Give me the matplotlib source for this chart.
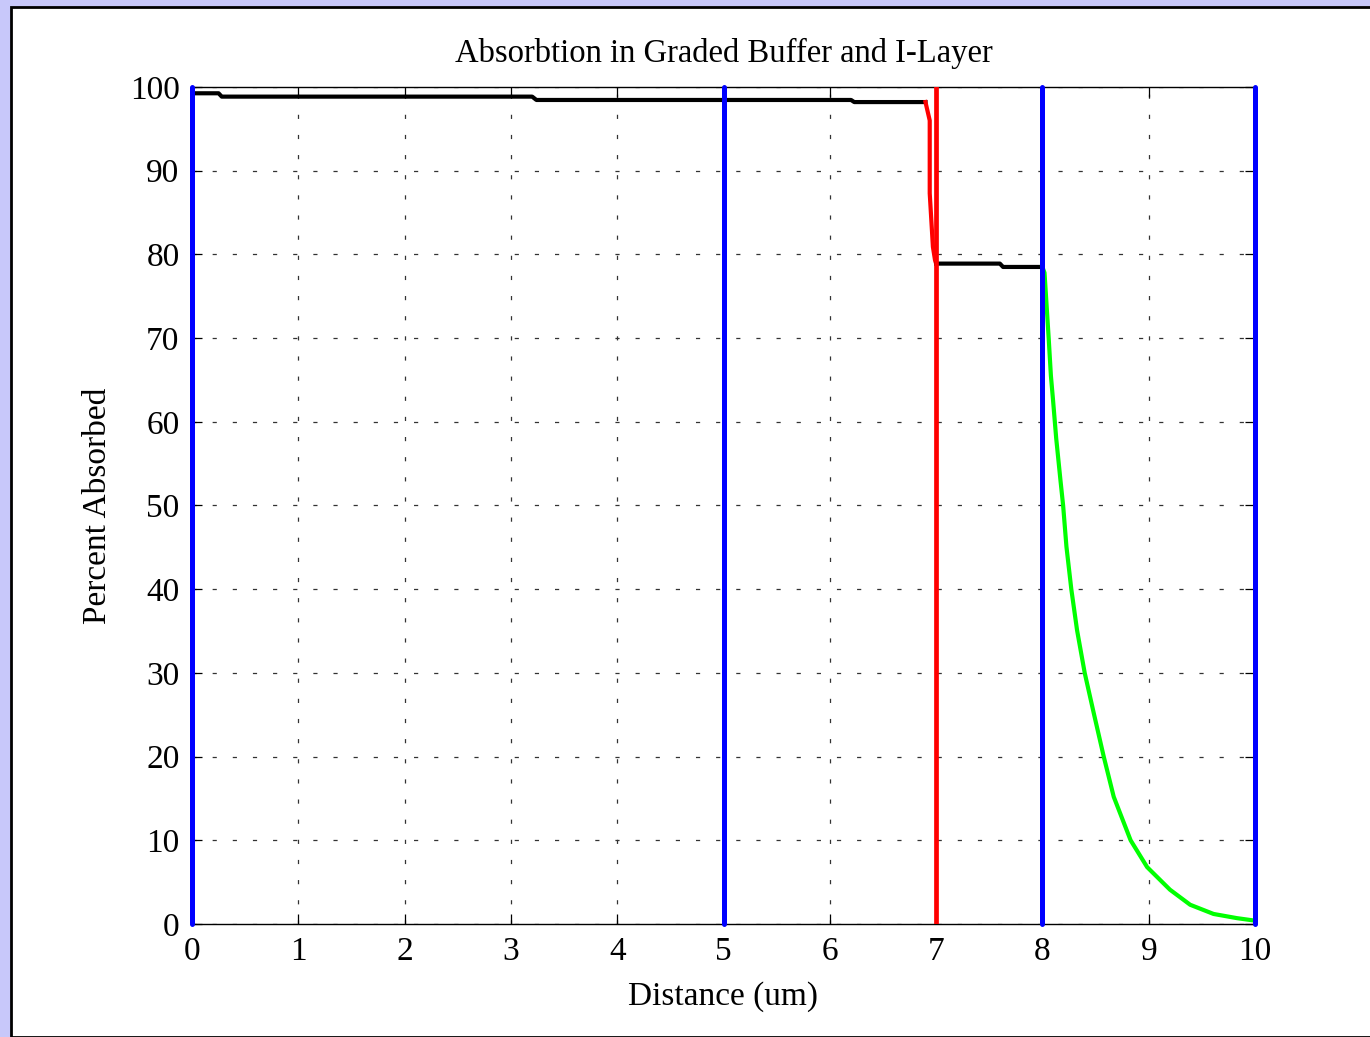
#!/usr/bin/env python3
import matplotlib
matplotlib.use("Agg")
import matplotlib.pyplot as plt
from matplotlib.patches import Rectangle

# layer boundaries (um)
blue_edges = [0, 5, 8, 10]
red_edges = [7]

# graded buffer absorption (black steps)
buf_x = [0.0, 0.25, 0.28, 3.2, 3.24, 6.2, 6.23, 6.9]
buf_y = [99.25, 99.25, 98.85, 98.85, 98.45, 98.45, 98.2, 98.2]

# sharp drop near 7 um (red)
drop_x = [6.9, 6.94, 6.94, 6.97, 6.99, 7.0]
drop_y = [98.2, 96.0, 87.3, 80.9, 79.3, 78.9]

# layer between 7 and 8 um (black)
mid_x = [7.0, 7.6, 7.63, 8.0]
mid_y = [78.9, 78.9, 78.5, 78.5]

# i-layer absorption (green)
ilayer_x = [8.00, 8.02, 8.04, 8.06, 8.08, 8.10, 8.13, 8.17, 8.195, 8.226, 8.272, 8.326,
            8.398, 8.483, 8.577, 8.671, 8.83, 8.985, 9.2, 9.39, 9.61, 9.83, 10.0]
ilayer_y = [78.5, 77.8, 73.8, 69.8, 65.5, 62.6, 58.0, 53.0, 50.0, 45.1, 40.0, 35.1,
            30.0, 25.2, 20.0, 15.2, 10.0, 6.8, 4.1, 2.3, 1.2, 0.7, 0.4]

x_ticks = list(range(0, 11))
y_ticks = list(range(0, 101, 10))

plt.rcParams["font.family"] = ["Liberation Serif", "DejaVu Serif"]
plt.rcParams["lines.scale_dashes"] = False

fig = plt.figure(figsize=(13.7, 10.37), dpi=100, facecolor="#c8c8fa")
fig.patches.append(Rectangle((11 / 1370, 0), 1.0, 1 - 7 / 1037, transform=fig.transFigure,
                             facecolor="white", edgecolor="black", linewidth=2, zorder=-10))

ax = fig.add_axes([192 / 1370, 113 / 1037, 1063 / 1370, 837 / 1037])
ax.set_zorder(1)
ax.set_facecolor("white")

for xv in blue_edges:
    ax.plot([xv, xv], [0, 100], color="#0000ff", lw=3.6, solid_capstyle="round",
            zorder=4, clip_on=False)
for xv in red_edges:
    ax.plot([xv, xv], [0, 100], color="#ff0000", lw=3.4, zorder=4)

ax.plot(buf_x, buf_y, color="black", lw=3, zorder=3)
ax.plot(drop_x, drop_y, color="#ff0000", lw=3, zorder=3)
ax.plot(mid_x, mid_y, color="black", lw=3, zorder=3)
ax.plot(ilayer_x, ilayer_y, color="#00ff00", lw=3, zorder=3, clip_on=False)

ax.set_xlim(0, 10)
ax.set_ylim(0, 100)
ax.set_xticks(x_ticks)
ax.set_yticks(y_ticks)
ax.grid(True, color="#333333", lw=0.9, linestyle=(0, (3, 11.5)))
ax.tick_params(direction="in", length=7, width=0.9, top=True, right=True,
               labelsize=24, pad=9)
for s in ax.spines.values():
    s.set_linewidth(1.0)

ax.set_title("Absorbtion in Graded Buffer and I-Layer", fontsize=23.5, pad=18)
ax.set_xlabel("Distance (um)", fontsize=24, labelpad=10)
ax.set_ylabel("Percent Absorbed", fontsize=24, labelpad=12)

fig.savefig("out.png", dpi=100, facecolor=fig.get_facecolor())
